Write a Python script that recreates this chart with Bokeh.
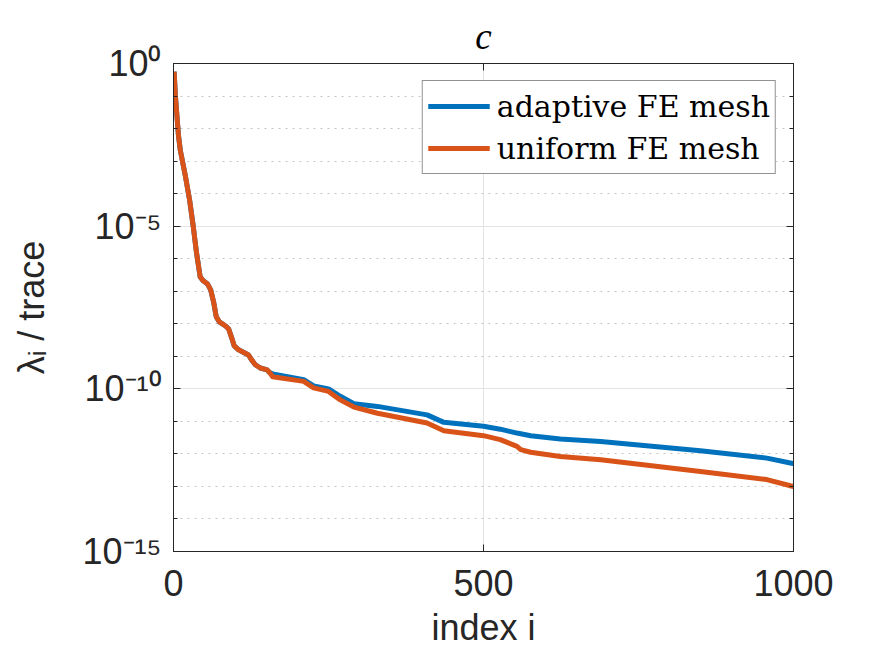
from bokeh.plotting import figure
from bokeh.models import (FixedTicker, CustomJSTickFormatter, LinearAxis, LogAxis,
                          Range1d, Legend, LegendItem)
from bokeh.embed import file_html
from bokeh.resources import INLINE

# eigenvalue index and log10(lambda_i / trace) for both meshes
idx_common = [1, 3, 8, 11, 19, 26, 32, 37, 43, 48, 55, 60, 65, 69, 74, 84, 89, 94,
              98, 105, 115, 121, 126, 132, 140, 151, 155]
log_common = [-0.25, -0.98, -2.21, -2.67, -3.44, -4.2, -5.03, -5.8, -6.56, -6.68,
              -6.78, -6.96, -7.36, -7.79, -7.94, -8.07, -8.16, -8.44, -8.68, -8.8,
              -8.9, -8.96, -9.11, -9.26, -9.36, -9.42, -9.5]

idx_adaptive = [160, 210, 226, 250, 269, 291, 329, 409, 436, 500, 527, 554, 576,
                624, 689, 850, 957, 995, 1000]
log_adaptive = [-9.54, -9.72, -9.91, -10.0, -10.23, -10.46, -10.54, -10.8, -11.03,
                -11.15, -11.24, -11.36, -11.44, -11.54, -11.62, -11.9, -12.13,
                -12.28, -12.3]

idx_uniform = [160, 210, 226, 250, 269, 291, 329, 409, 436, 500, 527, 554, 560, 576,
               624, 689, 850, 957, 995, 1000]
log_uniform = [-9.63, -9.77, -9.97, -10.08, -10.34, -10.56, -10.75, -11.05, -11.29,
               -11.44, -11.56, -11.77, -11.87, -11.95, -12.08, -12.18, -12.54,
               -12.79, -12.98, -13.0]

x_ticks = [0, 500, 1000]
y_major_exp = [0, -5, -10, -15]
y_minor_exp = list(range(0, -16, -1))

series_names = ["adaptive FE mesh", "uniform FE mesh"]
series_colors = ["#0072BD", "#D95319"]

AX = "#262626"
SANS = "Liberation Sans"

x_adapt = idx_common + idx_adaptive
y_adapt = [10.0 ** v for v in log_common + log_adaptive]
x_unif = idx_common + idx_uniform
y_unif = [10.0 ** v for v in log_common + log_uniform]

p = figure(width=875, height=657, output_backend="svg", toolbar_location=None,
           y_axis_type="log", x_range=Range1d(0, 1000),
           y_range=Range1d(10.0 ** -15, 10.0 ** 0),
           min_border_left=173, min_border_right=82, min_border_top=63,
           min_border_bottom=106)
p.background_fill_color = "white"
p.border_fill_color = "white"
p.outline_line_color = AX
p.outline_line_width = 1

p.title.text = "c"
p.title.align = "center"
p.title.text_font = "Liberation Serif"
p.title.text_font_style = "italic"
p.title.text_font_size = "37px"
p.title.text_color = "black"
p.title.standoff = 13

y_ticker = FixedTicker(ticks=[10.0 ** e for e in y_major_exp],
                       minor_ticks=[10.0 ** e for e in y_minor_exp])
x_ticker = FixedTicker(ticks=x_ticks, minor_ticks=[])

sup_fmt = CustomJSTickFormatter(code="""
const sup = {"0":"\u2070","1":"\u00b9","2":"\u00b2","3":"\u00b3","4":"\u2074",
             "5":"\u2075","6":"\u2076","7":"\u2077","8":"\u2078","9":"\u2079","-":"\u207b"};
const e = Math.round(Math.log10(tick));
return "10" + String(e).split("").map(c => sup[c]).join("");
""")
blank_fmt = CustomJSTickFormatter(code="return '';")


def style_axis(ax):
    ax.axis_line_color = AX
    ax.major_tick_line_color = AX
    ax.minor_tick_line_color = AX
    ax.major_tick_in = 7
    ax.major_tick_out = 0
    ax.minor_tick_in = 4
    ax.minor_tick_out = 0
    ax.major_label_text_font = SANS
    ax.major_label_text_font_size = "36px"
    ax.major_label_text_color = AX
    ax.axis_label_text_font = SANS
    ax.axis_label_text_font_size = "36px"
    ax.axis_label_text_font_style = "normal"
    ax.axis_label_text_color = AX


xa = p.xaxis[0]
xa.ticker = x_ticker
style_axis(xa)
xa.major_label_standoff = 18
xa.axis_label = "index i"
xa.axis_label_standoff = 8

ya = p.yaxis[0]
ya.ticker = y_ticker
ya.formatter = sup_fmt
style_axis(ya)
ya.major_label_standoff = 12
ya.axis_label = "\u03bb\u1d62 / trace"
ya.axis_label_standoff = 28

# box ticks on the right and top edges, without labels
ry = LogAxis(ticker=y_ticker, formatter=blank_fmt)
style_axis(ry)
ry.major_label_standoff = 0
p.add_layout(ry, "right")

tx = LinearAxis(ticker=x_ticker, formatter=blank_fmt)
style_axis(tx)
tx.major_label_standoff = 0
p.add_layout(tx, "above")

p.xgrid.ticker = x_ticker
p.xgrid.grid_line_color = "#e3e3e3"
p.ygrid.ticker = y_ticker
p.ygrid.grid_line_color = "#e3e3e3"
p.ygrid.minor_grid_line_color = "#c4c4c4"
p.ygrid.minor_grid_line_dash = "2 5"

r_a = p.line(x_adapt, y_adapt, line_color=series_colors[0], line_width=5,
             line_join="round")
r_u = p.line(x_unif, y_unif, line_color=series_colors[1], line_width=5,
             line_join="round")

legend = Legend(items=[LegendItem(label=series_names[0], renderers=[r_a]),
                       LegendItem(label=series_names[1], renderers=[r_u])],
                location="top_right")
legend.margin = 17
legend.padding = 5
legend.spacing = 2
legend.glyph_width = 62
legend.glyph_height = 40
legend.label_height = 40
legend.label_standoff = 7
legend.label_text_font = "DejaVu Serif"
legend.label_text_font_size = "30px"
legend.label_text_color = "black"
legend.border_line_color = AX
legend.border_line_width = 1
legend.background_fill_alpha = 1
p.add_layout(legend)

open("out.html", "w").write(file_html(p, INLINE))
